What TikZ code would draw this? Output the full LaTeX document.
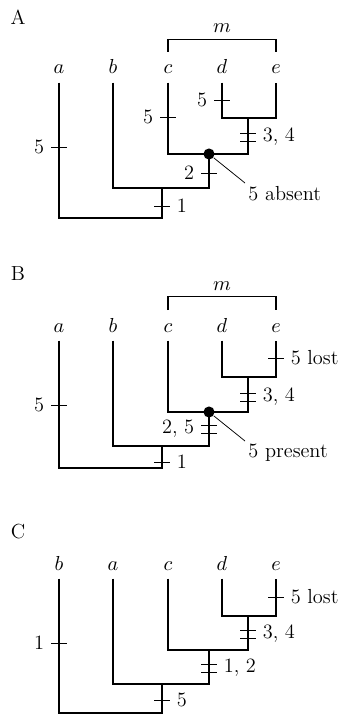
\documentclass[tikz,border=0pt]{standalone}
\usetikzlibrary{positioning}
\begin{document}
\begin{tikzpicture}[x=0.54pt, y=-0.54pt, line width=0.7pt,
    every node/.style={font=\fontsize{11}{13}\selectfont},
    tip/.style={anchor=base, inner xsep=0pt, inner ysep=4.3pt},
    clade/.style={anchor=base},
    panel/.style={inner sep=0pt},
    dot/.style={circle, fill, inner sep=0pt, minimum size=6pt},
    note/.style={anchor=north west, inner sep=1.5pt},
    ltick/.pic={\draw[line width=0.4pt] (-8,0) -- (8,0); \node[left] (-l) at (-8,0) {#1};},
    rtick/.pic={\draw[line width=0.4pt] (-8,0) -- (8,0); \node[right] (-l) at (8,0) {#1};},
    ldtick/.pic={\draw[line width=0.4pt] (-8,-4) -- (8,-4) (-8,4) -- (8,4); \node[left] (-l) at (-8,0) {#1};},
    rdtick/.pic={\draw[line width=0.4pt] (-8,-4) -- (8,-4) (-8,4) -- (8,4); \node[right] (-l) at (8,0) {#1};},
  ]
  \useasboundingbox (0,0) rectangle (343,715);

  % A
  \node[panel] (pA) at (18,17) {A};
  \foreach \t/\x in {a/59,b/113,c/168,d/222,e/276}
    \node[tip] (A\t) at (\x,74) {$\t$};
  \node[clade] (Am) at (222,33) {$m$};
  \coordinate (Aml) at (168,52);
  \coordinate (Amr) at (276,52);
  \draw (Aml) |- (Am.south) -| (Amr);
  \coordinate (Ade) at (248,118);
  \coordinate (Acde) at (209,154);
  \coordinate (Abcde) at (162,188);
  \coordinate (Aroot) at (162,218);
  \draw (Ad.south) |- (Ade) -| (Ae.south);
  \draw (Ac.south) |- (Acde) -| (Ade);
  \draw (Ab.south) |- (Abcde) -| (Acde);
  \draw (Aa.south) |- (Aroot) -| (Abcde);
  \pic (Ata) at (59,147) {ltick=5};
  \pic (Atc) at (168,117) {ltick=5};
  \pic (Atd) at (222,100) {ltick=5};
  \pic (Atde) at (248,137) {rdtick={3, 4}};
  \pic (Atcde) at (209,173) {ltick=2};
  \pic (Atbcde) at (162,206) {rtick=1};
  \node[dot] (Adot) at (Acde) {};
  \node[note] (Aabs) at (245,183) {5 absent};
  \draw[line width=0.4pt] (Adot) -- (Aabs.north west);

  % B
  \node[panel] (pB) at (18,274) {B};
  \foreach \t/\x in {a/59,b/113,c/168,d/222,e/276}
    \node[tip] (B\t) at (\x,332) {$\t$};
  \node[clade] (Bm) at (222,290) {$m$};
  \coordinate (Bml) at (168,310);
  \coordinate (Bmr) at (276,310);
  \draw (Bml) |- (Bm.south) -| (Bmr);
  \coordinate (Bde) at (248,377);
  \coordinate (Bcde) at (209,412);
  \coordinate (Bbcde) at (162,446);
  \coordinate (Broot) at (162,468);
  \draw (Bd.south) |- (Bde) -| (Be.south);
  \draw (Bc.south) |- (Bcde) -| (Bde);
  \draw (Bb.south) |- (Bbcde) -| (Bcde);
  \draw (Ba.south) |- (Broot) -| (Bbcde);
  \pic (Bta) at (59,405) {ltick=5};
  \pic (Bte) at (276,358) {rtick={5 lost}};
  \pic (Btde) at (248,397) {rdtick={3, 4}};
  \pic (Btcde) at (209,429) {ldtick={2, 5}};
  \pic (Btbcde) at (162,462) {rtick=1};
  \node[dot] (Bdot) at (Bcde) {};
  \node[note] (Bpre) at (245,441) {5 present};
  \draw[line width=0.4pt] (Bdot) -- (Bpre.north west);

  % C
  \node[panel] (pC) at (18,532) {C};
  \foreach \t/\x in {b/59,a/113,c/168,d/222,e/276}
    \node[tip] (C\t) at (\x,570) {$\t$};
  \coordinate (Cde) at (248,616);
  \coordinate (Ccde) at (209,650);
  \coordinate (Cacde) at (162,684);
  \coordinate (Croot) at (162,713);
  \draw (Cd.south) |- (Cde) -| (Ce.south);
  \draw (Cc.south) |- (Ccde) -| (Cde);
  \draw (Ca.south) |- (Cacde) -| (Ccde);
  \draw (Cb.south) |- (Croot) -| (Cacde);
  \pic (Ctb) at (59,643) {ltick=1};
  \pic (Cte) at (276,597) {rtick={5 lost}};
  \pic (Ctde) at (248,634) {rdtick={3, 4}};
  \pic (Ctcde) at (209,668) {rdtick={1, 2}};
  \pic (Ctacde) at (162,700) {rtick=5};
\end{tikzpicture}
\end{document}
